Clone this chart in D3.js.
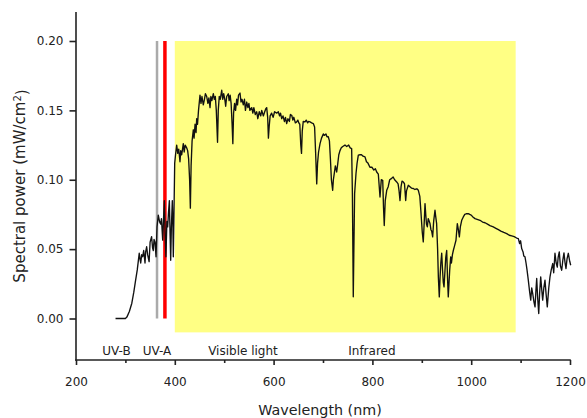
<!DOCTYPE html>
<html>
<head>
<meta charset="utf-8">
<script src="https://cdn.jsdelivr.net/npm/d3@7"></script>
<style>
  html, body { margin: 0; padding: 0; background: #fff; }
  text { font-family: "DejaVu Sans", Verdana, sans-serif; fill: #222; }
</style>
</head>
<body>
<svg id="chart" width="587" height="418"></svg>
<script>
// ---- data ----
const wavelength = [
280,290,300,303,308,313,317,320,324,326,328,330,331,333,335,337,339.7,341,343,345,348,350,353,355,356.5,358,360,362,364,366.6,369,371.4,373,375.5,377,378.8,380.5,382,384,385.6,387,389,390.5,391.7,393,395,396,397,398.5,399.8,
401.5,403.8,406,408,410.5,412,414,417.2,419,421,424,426,428,430,431.5,433,435,437.5,439,441,443,444.3,446,448,451,453,455,457.7,460,462,464.6,467,469,471.3,473,475,478,480,482,484,486.5,488,490,492,495,497,499,501.6,503,505,508.3,510,512,514,516,517.5,519,521,523,525.3,527,529,532,534,536,538.7,541,543,545.6,548,550,552,555.7,558,560,563,565.8,568,571,574,576,579.2,582,584,586,588,589.5,591,593,596,599,602,606.3,609.5,612,614,616.4,619,622,624,626.5,629,632,634,636.7,639,641,644,646.8,649,651,653,655,656.5,658,660,663.6,666,669,671,673.7,677,680.4,683,685,687.3,689,691,694,697,700.6,703,706,708,710.7,713,715,717,719.6,721,723,725,727.7,730,732,734.4,737,740,744.5,748,752,755,758,759.5,761.3,762.5,764,766.8,769,771.5,775,778,781,785,788,791,795,799,803,806,808.7,812,815.4,818,820.9,822.5,824,826,829,832,835,839,842,845,849.2,852,854,855.9,858,860,862.6,865,867.4,869,872.7,876,879,882.8,886,890,893,896,898,899.8,901,903,905,906.5,908,909.5,911.2,913,916.6,918.5,920,922,924,926.7,928,930,932,933.5,935.4,937,938.5,940.3,942,943.5,945,947,948.5,950.4,952,953.6,955,956.5,958.5,960,962,963.8,966,969.2,971.9,974,976,978,980.8,984,987,990,994,997,1000,1004,1007.7,1012,1017.8,1023,1028,1033,1038,1044.7,1050,1055,1060,1066,1071.9,1077,1082,1087,1092,1095.4,1098,1100,1102.2,1105,1106.5,1108.9,1111,1113,1115.6,1118,1120.5,1122.5,1124.5,1127,1129.2,1131,1132.6,1134.5,1136.7,1138.5,1140.7,1142.5,1144.7,1147,1149.4,1151.5,1154,1157,1159.5,1162,1165,1167,1169.6,1172,1174.3,1176,1178.3,1180.5,1183.2,1185.5,1187.8,1190,1191.9,1194,1196.6,1199,1201.4
];
const power = [
0.000,0.000,0.000,0.001,0.005,0.011,0.019,0.026,0.035,0.041,0.047,0.042,0.040,0.046,0.0445,0.049,0.040,0.048,0.0517,0.046,0.041,0.055,0.059,0.051,0.049,0.057,0.055,0.0445,0.066,0.0745,0.070,0.068,0.072,0.0565,0.070,0.085,0.060,0.0445,0.070,0.066,0.075,0.085,0.060,0.042,0.065,0.085,0.070,0.0445,0.080,0.112,
0.118,0.125,0.119,0.122,0.113,0.121,0.118,0.126,0.120,0.125,0.123,0.121,0.115,0.100,0.0795,0.110,0.128,0.136,0.130,0.140,0.134,0.144,0.140,0.150,0.161,0.155,0.160,0.154,0.158,0.162,0.160,0.155,0.159,0.152,0.160,0.157,0.162,0.158,0.160,0.150,0.127,0.150,0.160,0.158,0.1645,0.158,0.162,0.157,0.153,0.160,0.162,0.157,0.161,0.155,0.140,0.126,0.148,0.155,0.150,0.158,0.154,0.161,0.1625,0.156,0.158,0.154,0.158,0.150,0.156,0.152,0.155,0.150,0.152,0.148,0.152,0.147,0.149,0.144,0.149,0.146,0.150,0.146,0.149,0.151,0.152,0.145,0.130,0.138,0.146,0.148,0.145,0.149,0.148,0.149,0.146,0.148,0.144,0.146,0.142,0.145,0.1405,0.144,0.142,0.147,0.1465,0.143,0.145,0.141,0.1417,0.143,0.141,0.140,0.125,0.119,0.135,0.142,0.1417,0.143,0.141,0.142,0.1417,0.141,0.1405,0.138,0.120,0.097,0.112,0.120,0.126,0.130,0.133,0.132,0.133,0.131,0.131,0.128,0.115,0.100,0.0924,0.100,0.105,0.110,0.1056,0.112,0.118,0.121,0.123,0.124,0.125,0.124,0.125,0.123,0.1225,0.090,0.0156,0.050,0.090,0.1045,0.112,0.1177,0.118,0.118,0.117,0.1165,0.113,0.112,0.109,0.109,0.107,0.108,0.1056,0.104,0.0876,0.100,0.0996,0.080,0.067,0.085,0.0924,0.095,0.100,0.101,0.102,0.100,0.0984,0.097,0.092,0.085,0.095,0.099,0.0984,0.097,0.085,0.092,0.096,0.095,0.094,0.0937,0.093,0.0935,0.0924,0.088,0.078,0.0684,0.062,0.0552,0.070,0.0828,0.075,0.068,0.066,0.072,0.0684,0.064,0.063,0.0588,0.070,0.078,0.074,0.0684,0.050,0.030,0.0156,0.030,0.040,0.047,0.035,0.026,0.0228,0.035,0.044,0.049,0.030,0.0156,0.025,0.035,0.0444,0.040,0.046,0.049,0.052,0.0564,0.0684,0.064,0.0588,0.066,0.0708,0.0732,0.075,0.0755,0.0756,0.075,0.0745,0.073,0.072,0.0715,0.0708,0.0695,0.069,0.068,0.067,0.066,0.065,0.064,0.063,0.062,0.0612,0.060,0.0595,0.059,0.058,0.0576,0.054,0.056,0.0504,0.048,0.045,0.0444,0.040,0.035,0.0276,0.020,0.0132,0.022,0.018,0.012,0.0084,0.020,0.0288,0.015,0.0036,0.018,0.030,0.022,0.0132,0.022,0.0276,0.018,0.0084,0.022,0.030,0.035,0.0396,0.033,0.047,0.040,0.037,0.044,0.048,0.038,0.0348,0.042,0.0473,0.040,0.036,0.043,0.047,0.042,0.0384
];
const xMajorTicks = [200, 400, 600, 800, 1000, 1200];
const xMinorTicks = [300, 500, 700, 900, 1100];
const yTicks = [0.00, 0.05, 0.10, 0.15, 0.20];
const visibleBand = [400, 1090];           // shaded region (nm)
const bandPower = [-0.01, 0.20];           // shaded region (power)
const markerWavelengths = [364, 380];      // grey and red markers
const regionNames = ["UV-B", "UV-A", "Visible light", "Infrared"];
const regionCenters = [282, 364, 538, 799];
const xTitle = "Wavelength (nm)";

// ---- chart ----
const svg = d3.select("#chart");
const x = d3.scaleLinear().domain([200, 1200]).range([76, 570]);
const y = d3.scaleLinear().domain([0, 0.2]).range([318.5, 41]);

// shaded band
svg.append("rect")
  .attr("x", x(visibleBand[0]))
  .attr("width", x(visibleBand[1]) - x(visibleBand[0]))
  .attr("y", y(bandPower[1]))
  .attr("height", y(bandPower[0]) - y(bandPower[1]))
  .attr("fill", "#ffff84");

// marker lines
const markerColors = ["#aaaaaa", "#ff0000"];
const markerWidths = [2.5, 3.5];
svg.selectAll("line.marker").data(markerWavelengths).join("line")
  .attr("class", "marker")
  .attr("x1", d => x(d)).attr("x2", d => x(d))
  .attr("y1", y(0)).attr("y2", y(0.2))
  .attr("stroke", (d, i) => markerColors[i])
  .attr("stroke-width", (d, i) => markerWidths[i]);

// spectrum
const pts = wavelength.map((w, i) => [w, power[i]]);
svg.append("path")
  .datum(pts)
  .attr("fill", "none")
  .attr("stroke", "#111")
  .attr("stroke-width", 1.35)
  .attr("stroke-linejoin", "round")
  .attr("d", d3.line().x(d => x(d[0])).y(d => y(d[1])));

// axes
const axisColor = "#222";
const yAxis = svg.append("g").attr("transform", "translate(76,0)")
  .call(d3.axisLeft(y).tickValues(yTicks).tickFormat(d3.format(".2f")).tickSize(6.5).tickPadding(6));
const xAxis = svg.append("g").attr("transform", "translate(0,360)")
  .call(d3.axisBottom(x).tickValues(xMajorTicks).tickFormat(d3.format("d")).tickSize(5).tickPadding(12.5));
const xMinor = svg.append("g").attr("transform", "translate(0,360)")
  .call(d3.axisBottom(x).tickValues(xMinorTicks).tickFormat("").tickSize(3));
[yAxis, xAxis, xMinor].forEach(g => {
  g.select(".domain").remove();
  g.selectAll("line").attr("stroke", axisColor).attr("stroke-width", 1.6);
  g.selectAll("text").style("font-size", "12px").style("font-family", "DejaVu Sans, sans-serif").attr("fill", "#222");
});
svg.append("line").attr("x1", 76).attr("x2", 76).attr("y1", 12).attr("y2", 360.8)
  .attr("stroke", axisColor).attr("stroke-width", 1.6);
svg.append("line").attr("x1", 75.2).attr("x2", 570.8).attr("y1", 360).attr("y2", 360)
  .attr("stroke", axisColor).attr("stroke-width", 1.6);

// region labels
svg.selectAll("text.region").data(regionNames).join("text")
  .attr("class", "region")
  .attr("x", (d, i) => x(regionCenters[i]))
  .attr("y", 354.5)
  .attr("text-anchor", "middle")
  .style("font-size", "12px")
  .text(d => d);

// axis titles
svg.append("text")
  .attr("x", 320).attr("y", 414.5)
  .attr("text-anchor", "middle")
  .style("font-size", "14.3px")
  .text(xTitle);

const yt = svg.append("text")
  .attr("transform", "translate(25,186) rotate(-90)")
  .attr("text-anchor", "middle")
  .style("font-size", "15px");
yt.append("tspan").text("Spectral power (mW/cm");
yt.append("tspan").attr("dy", "-0.45em").style("font-size", "10px").text("2");
yt.append("tspan").attr("dy", "0.45em").text(")");
</script>
</body>
</html>
